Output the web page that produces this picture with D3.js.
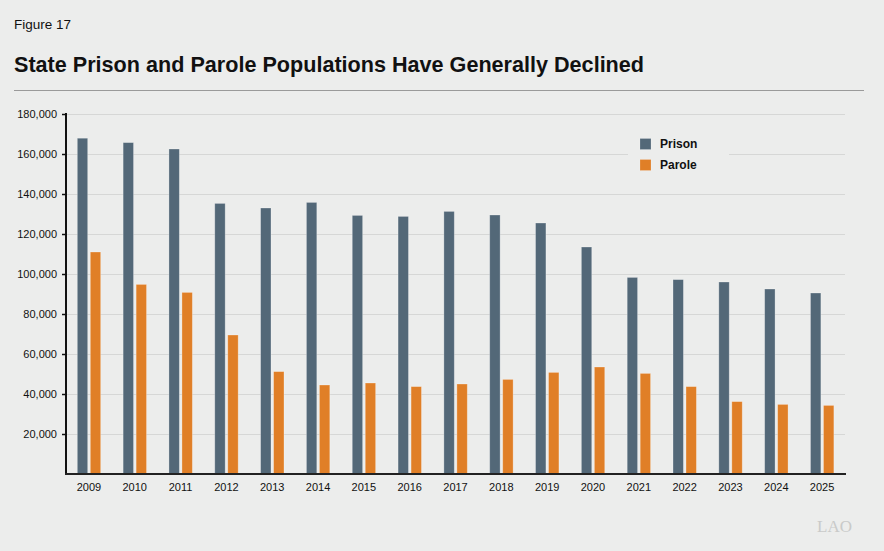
<!DOCTYPE html>
<html>
<head>
<meta charset="utf-8">
<script src="https://cdn.jsdelivr.net/npm/d3@7"></script>
<style>
  html, body { margin: 0; padding: 0; background: #ecedec; }
  svg { display: block; font-family: "Liberation Sans", Arial, Helvetica, sans-serif; }
</style>
</head>
<body>
<svg id="chart" width="884" height="551"></svg>
<script>
const years = ["2009","2010","2011","2012","2013","2014","2015","2016","2017","2018","2019","2020","2021","2022","2023","2024","2025"];
const prison = [167900, 165700, 162500, 135300, 133000, 135800, 129300, 128800, 131300, 129500, 125500, 113500, 98300, 97200, 96000, 92500, 90500];
const parole = [111000, 94800, 90800, 69500, 51200, 44500, 45500, 43700, 45000, 47300, 50800, 53500, 50300, 43700, 36200, 34800, 34300];
const seriesNames = ["Prison", "Parole"];
const seriesColors = ["#536878", "#e07f27"];
const yTicks = [20000, 40000, 60000, 80000, 100000, 120000, 140000, 160000, 180000];

const svg = d3.select("#chart");
svg.append("rect").attr("width", 884).attr("height", 551).attr("fill", "#ecedec");

// Header
svg.append("text").attr("x", 14).attr("y", 29).attr("font-size", 13.5).attr("fill", "#111").text("Figure 17");
svg.append("text").attr("x", 14).attr("y", 72).attr("font-size", 21.6).attr("font-weight", "bold").attr("fill", "#111")
  .text("State Prison and Parole Populations Have Generally Declined");
svg.append("line").attr("x1", 14).attr("x2", 864).attr("y1", 90.5).attr("y2", 90.5).attr("stroke", "#9a9a9a").attr("stroke-width", 1);

const pLeft = 66, pRight = 845, pTop = 114, pBottom = 474;
const x0 = d3.scaleBand().domain(years).range([pLeft, pRight]).padding(0);
const x1 = d3.scaleBand().domain(seriesNames).range([11.3, 34.7]).paddingInner(0.2);
const y = d3.scaleLinear().domain([0, 180000]).range([pBottom, pTop]);

// gridlines
svg.append("g").selectAll("line").data(yTicks).join("line")
  .attr("x1", pLeft).attr("x2", pRight)
  .attr("y1", d => Math.round(y(d)) + 0.5).attr("y2", d => Math.round(y(d)) + 0.5)
  .attr("stroke", "#d6d7d6").attr("stroke-width", 1.2);

// bars
const groups = svg.append("g").selectAll("g").data(years).join("g")
  .attr("transform", d => `translate(${x0(d)},0)`);
groups.selectAll("rect").data((d, i) => [
  {s: "Prison", v: prison[i], c: seriesColors[0]},
  {s: "Parole", v: parole[i], c: seriesColors[1]}
]).join("rect")
  .attr("x", d => x1(d.s))
  .attr("width", x1.bandwidth())
  .attr("y", d => y(d.v))
  .attr("height", d => y(0) - y(d.v))
  .attr("fill", d => d.c)
  .attr("stroke", "rgba(255,255,255,0.35)").attr("stroke-width", 0.8);

// legend
const lg = svg.append("g");
lg.append("rect").attr("x", 628).attr("y", 130).attr("width", 101).attr("height", 48).attr("fill", "#ecedec");
seriesNames.forEach((n, i) => {
  lg.append("rect").attr("x", 640).attr("y", 138.5 + i * 21).attr("width", 11).attr("height", 11)
    .attr("fill", seriesColors[i]).attr("stroke", "rgba(255,255,255,0.3)").attr("stroke-width", 0.6);
  lg.append("text").attr("x", 660).attr("y", 148 + i * 21).attr("font-size", 12).attr("font-weight", "bold")
    .attr("fill", "#111").text(n);
});

// y axis
const yAxis = d3.axisLeft(y).tickValues(yTicks).tickSize(4).tickPadding(5).tickFormat(d3.format(","));
const gy = svg.append("g").attr("transform", `translate(${pLeft},0)`).call(yAxis);
gy.select(".domain").remove();
gy.selectAll(".tick line").attr("stroke", "#111").attr("stroke-width", 1.5);
gy.selectAll(".tick text").attr("font-size", 11).attr("fill", "#111").attr("font-family", "Liberation Sans, Arial, sans-serif");
svg.append("line").attr("x1", pLeft).attr("x2", pLeft).attr("y1", pTop - 1).attr("y2", pBottom + 1)
  .attr("stroke", "#111").attr("stroke-width", 2);

// x axis
const xAxis = d3.axisBottom(x0).tickSize(0).tickPadding(9);
const gx = svg.append("g").attr("transform", `translate(0,${pBottom})`).call(xAxis);
gx.select(".domain").remove();
gx.selectAll(".tick text").attr("font-size", 11).attr("fill", "#111").attr("font-family", "Liberation Sans, Arial, sans-serif");
svg.append("line").attr("x1", pLeft - 1).attr("x2", pRight + 1).attr("y1", pBottom).attr("y2", pBottom)
  .attr("stroke", "#222").attr("stroke-width", 2);

// logo
svg.append("text").attr("x", 817).attr("y", 532).attr("font-size", 17).attr("font-family", "Liberation Serif, serif")
  .attr("fill", "#c9cac9").text("LAO");
</script>
</body>
</html>
